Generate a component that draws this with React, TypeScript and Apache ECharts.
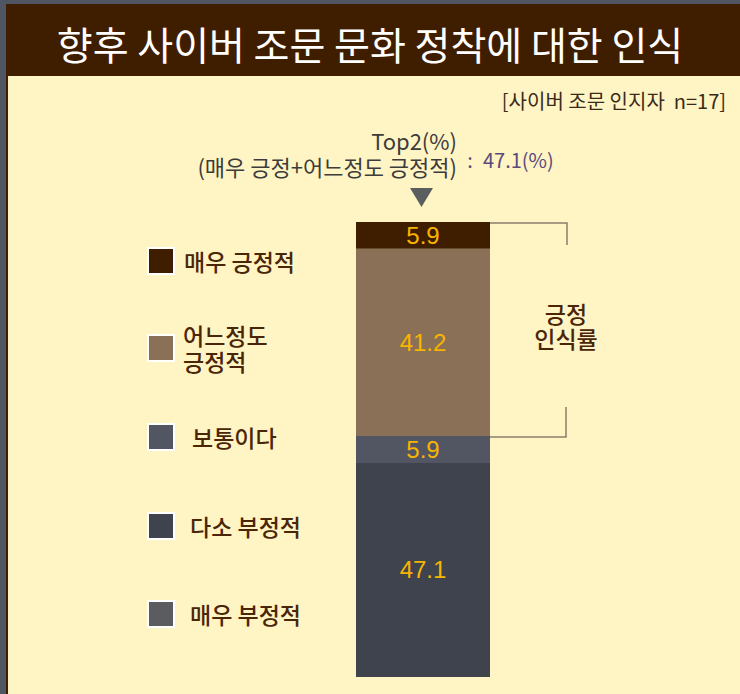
import React, { useEffect, useRef } from "react";
import * as echarts from "echarts";

const titleText = "향후 사이버 조문 문화 정착에 대한 인식";
const subtitleText = "[사이버 조문 인지자  n=17]";
const categories = ["매우 긍정적", "어느정도 긍정적", "보통이다", "다소 부정적", "매우 부정적"];
const values = [5.9, 41.2, 5.9, 47.1, 0];
const top2Lines = ["Top2(%)", "(매우 긍정+어느정도 긍정적)"];
const bracketLines = ["긍정", "인식률"];

const FONT = "'Noto Sans CJK KR', 'Noto Sans', sans-serif";
const segColors = ["#3f1e00", "#8a7057", "#525663", "#3f434d", "#5a5c5f"];
const legendTops = [247, 322, 423, 512, 600];
const legendPads = [5, 4, 13, 11, 11];

export default function App() {
  const ref = useRef<HTMLDivElement>(null);
  useEffect(() => {
    if (!ref.current) return;
    const chart = echarts.init(ref.current, null, { renderer: "svg" });
    const total = values.reduce((a, b) => a + b, 0);
    const top2 = (values[0] + values[1]).toFixed(1);
    const order = [4, 3, 2, 1, 0];
    const series = order.map((i) => ({
      name: categories[i],
      type: "bar",
      stack: "all",
      barWidth: 134,
      data: [values[i]],
      itemStyle: { color: segColors[i] },
      label: {
        show: values[i] > 0,
        position: "inside",
        color: "#f7b500",
        fontSize: 24,
        fontFamily: "'Liberation Sans', Arial, sans-serif",
        formatter: (p: any) => p.value.toFixed(1),
      },
    }));
    const legends = categories.map((name, i) => ({
      data: [name],
      orient: "vertical",
      left: 147,
      top: legendTops[i],
      padding: 0,
      icon: "rect",
      itemWidth: 26,
      itemHeight: 26,
      selectedMode: false,
      itemStyle: { borderColor: "#ffffff", borderWidth: 2 },
      formatter: (n: string) => (i === 1 ? n.replace(" ", "\n") : n),
      textStyle: {
        fontSize: 23,
        fontWeight: 500,
        color: "#4a2508",
        fontFamily: FONT,
        lineHeight: 26,
        padding: [0, 0, 0, legendPads[i]],
      },
    }));
    chart.setOption({
      animation: false,
      backgroundColor: "transparent",
      grid: { left: 356, width: 134, top: 222, bottom: 17 },
      xAxis: { type: "category", data: [""], show: false },
      yAxis: { type: "value", min: 0, max: total, show: false },
      legend: legends,
      series,
      graphic: [
        { type: "rect", z: -10, shape: { x: 0, y: 0, width: 740, height: 694 }, style: { fill: "#4f5563" } },
        { type: "rect", z: -9, shape: { x: 6, y: 4, width: 734, height: 690 }, style: { fill: "#3f1e00" } },
        { type: "rect", z: -8, shape: { x: 8, y: 76, width: 732, height: 618 }, style: { fill: "#fff4c3" } },
        {
          type: "text", x: 370, y: 43,
          style: { text: titleText, fill: "#ffffff", fontSize: 39, fontFamily: FONT, align: "center", verticalAlign: "middle" },
        },
        {
          type: "text", x: 726, y: 100,
          style: { text: subtitleText, fill: "#3a2a1a", fontSize: 20, fontFamily: FONT, align: "right", verticalAlign: "middle" },
        },
        {
          type: "text", x: 457, y: 153,
          style: {
            text: top2Lines.join("\n"), fill: "#3c3c3c", fontSize: 22, lineHeight: 26,
            fontFamily: FONT, align: "right", verticalAlign: "middle",
          },
        },
        {
          type: "text", x: 470, y: 159,
          style: { text: ":", fill: "#5b4a7c", fontSize: 20, fontFamily: FONT, align: "center", verticalAlign: "middle" },
        },
        {
          type: "text", x: 483, y: 159,
          style: { text: top2 + "(%)", fill: "#5b4a7c", fontSize: 20, fontFamily: FONT, align: "left", verticalAlign: "middle" },
        },
        {
          type: "polygon",
          shape: { points: [[410, 188], [433, 188], [421.5, 207]] },
          style: { fill: "#5a5e5f" },
        },
        {
          type: "polyline",
          shape: { points: [[490, 223], [567, 223], [567, 245]] },
          style: { stroke: "#8a7d6e", lineWidth: 1.5, fill: null },
        },
        {
          type: "polyline",
          shape: { points: [[566, 407], [566, 437], [490, 437]] },
          style: { stroke: "#8a7d6e", lineWidth: 1.5, fill: null },
        },
        {
          type: "text", x: 566, y: 325,
          style: {
            text: bracketLines.join("\n"), fill: "#4a2508", fontSize: 23, fontWeight: 500, lineHeight: 25,
            fontFamily: FONT, align: "center", verticalAlign: "middle",
          },
        },
      ],
    });
    return () => chart.dispose();
  }, []);
  return (
    <div
      ref={ref}
      style={{ position: "absolute", left: 0, top: 0, width: 740, height: 694 }}
    />
  );
}
